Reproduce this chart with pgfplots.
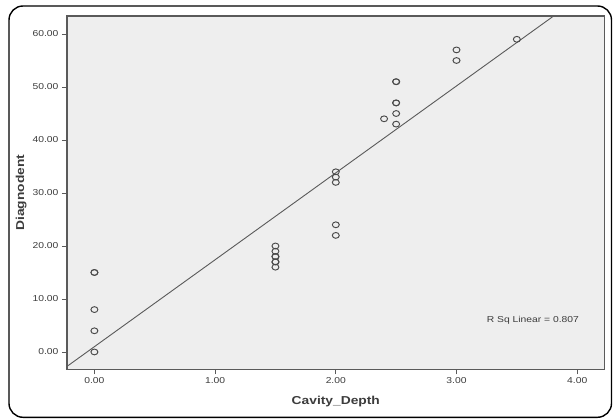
\documentclass[border=0pt]{standalone}
\usepackage{pgfplots}
\pgfplotsset{compat=1.18}
\usetikzlibrary{calc}
\usepackage{fontspec}
\setmainfont{Liberation Sans}[FakeStretch=1.2]
\definecolor{frame}{HTML}{5A5A5A}
\definecolor{bg}{HTML}{EEEEEE}
\definecolor{txt}{HTML}{3C3C3C}
\definecolor{mk}{HTML}{4A4A4A}
\begin{document}
\begin{tikzpicture}
\begin{axis}[
  name=ax,
  scale only axis, width=537.6pt, height=353.3pt,
  xmin=-0.227, xmax=4.227, ymin=-3.27, ymax=63.4,
  xtick={0,1,2,3,4}, ytick={0,10,20,30,40,50,60},
  xticklabel style={/pgf/number format/.cd,fixed,fixed zerofill,precision=2},
  yticklabel style={/pgf/number format/.cd,fixed,fixed zerofill,precision=2},
  /pgf/number format/assume math mode=true,
  tick align=outside, xtick pos=bottom, ytick pos=left,
  major tick length=5pt,
  tick style={frame, line width=0.9pt},
  axis line style={frame, line width=1.1pt},
  axis background/.style={fill=bg},
  ticklabel style={font=\fontsize{8.6}{10}\selectfont, text=txt},
  every axis x label/.style={at={(axis description cs:0.5,-0.092)},anchor=center},
  every axis y label/.style={at={(axis description cs:-0.085,0.5)},rotate=90,anchor=center},
  label style={font=\fontsize{11.5}{13}\selectfont\bfseries, text=txt},
  xlabel={Cavity\_Depth}, ylabel={Diagnodent},
  clip=true,
]
\addplot[color=frame, line width=0.9pt] coordinates {(-0.3,-3.92) (4,66.6)};
\addplot[only marks, mark=o, mark size=2.9pt, mark options={mk, line width=0.95pt, xscale=1.2}] coordinates {
(0,0) (0,4) (0,8) (0,15) (0,15)
(1.5,16) (1.5,17) (1.5,17) (1.5,18) (1.5,18) (1.5,19) (1.5,20)
(2,22) (2,24) (2,32) (2,33) (2,34)
(2.4,44)
(2.5,43) (2.5,45) (2.5,47) (2.5,47) (2.5,51) (2.5,51)
(3,55) (3,57) (3.5,59)
};
\node[anchor=west, font=\fontsize{8.6}{10}\selectfont, text=txt, inner sep=0pt] at (axis cs:3.25,6) {R Sq Linear = 0.807};
\end{axis}
\draw[black, line width=1.4pt, rounded corners=14pt]
  ($(ax.south west)+(-58pt,-48pt)$) rectangle ($(ax.south west)+(544.5pt,363.3pt)$);
\path[use as bounding box] ($(ax.south west)+(-67pt,-48.7pt)$) rectangle ($(ax.south west)+(546pt,369.3pt)$);
\end{tikzpicture}
\end{document}
